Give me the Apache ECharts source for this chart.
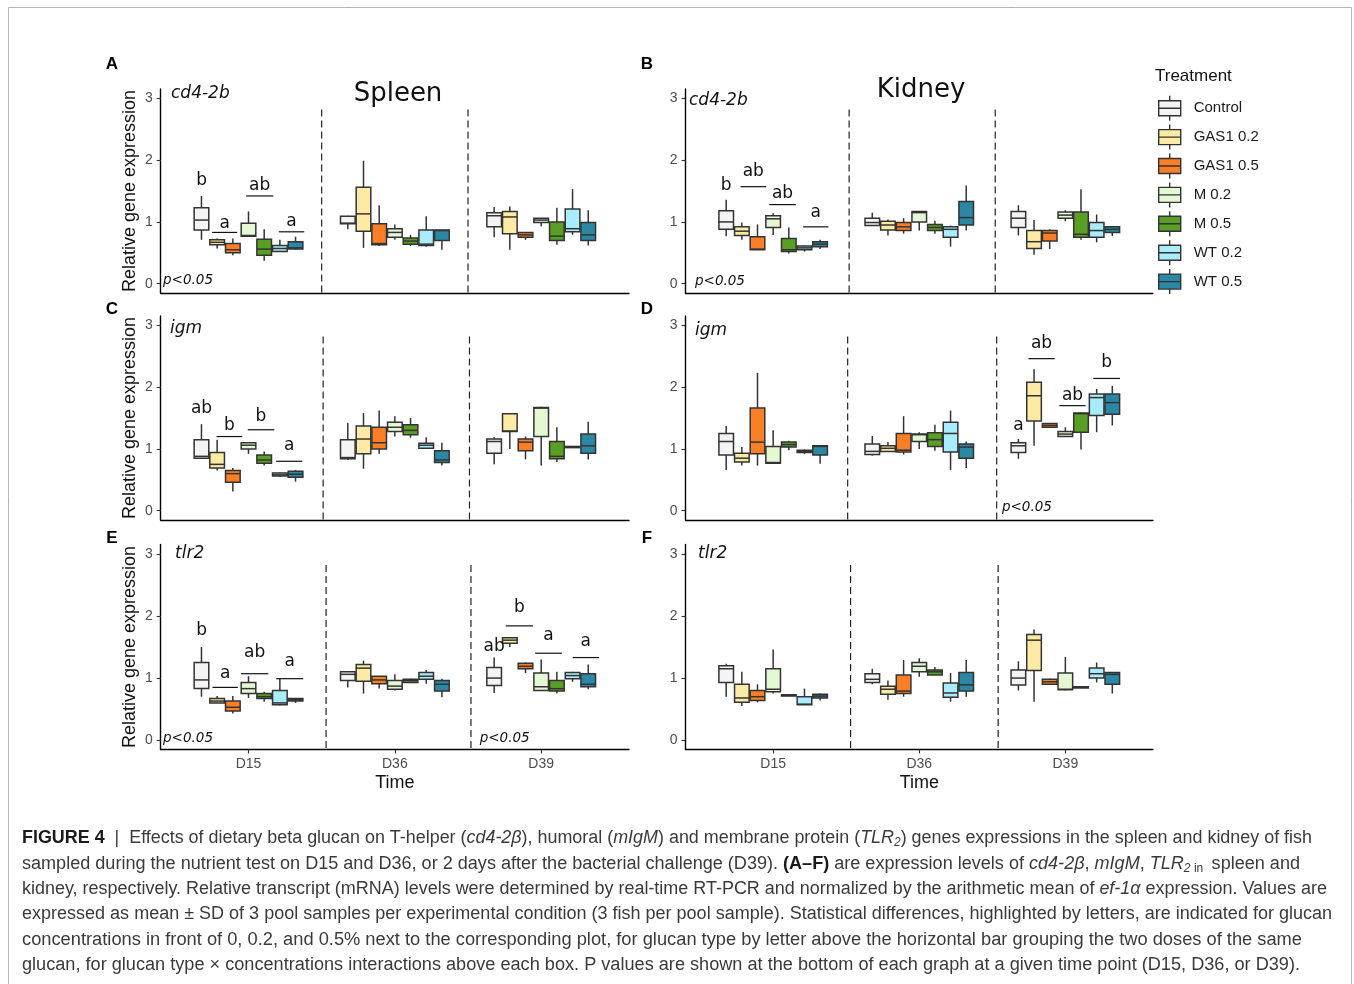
<!DOCTYPE html>
<html><head><meta charset="utf-8">
<script src="https://cdn.jsdelivr.net/npm/echarts@6/dist/echarts.min.js"></script>
<style>html,body{margin:0;padding:0;background:#fff}#c{width:1354px;height:984px}</style>
</head><body><div id="c"></div>
<script>
// ---------------- data ----------------
const treatments = ['Control','GAS1 0.2','GAS1 0.5','M 0.2','M 0.5','WT 0.2','WT 0.5'];
const times = ['D15','D36','D39'];
const yTicks = [0,1,2,3];
const xTicks = [1,2,3];
const fillColors = ['#f4f4f4','#fdeba5','#fb7f27','#e4f8d4','#5a9f25','#a9ecfb','#2a88a4'];

// [min, q1, median, q3, max] per treatment, for D15, D36, D39
const spleenCd4 = [
 [[0.71,0.87,1.03,1.23,1.42],[0.88,0.97,0.98,1.09,1.10],[0.75,0.92,1.10,1.15,1.24]],
 [[0.57,0.63,0.67,0.71,0.73],[0.58,0.85,1.13,1.56,1.99],[0.55,0.81,1.08,1.17,1.25]],
 [[0.46,0.50,0.55,0.65,0.73],[0.61,0.63,0.65,0.97,1.27],[0.71,0.75,0.79,0.83,0.83]],
 [[0.76,0.77,0.78,0.98,1.17],[0.71,0.75,0.83,0.89,0.96],[0.93,0.99,1.03,1.06,1.06]],
 [[0.37,0.46,0.56,0.72,0.88],[0.61,0.64,0.69,0.74,0.79],[0.63,0.70,0.77,1.00,1.23]],
 [[0.52,0.52,0.57,0.62,0.71],[0.60,0.62,0.64,0.87,1.09],[0.79,0.84,0.89,1.21,1.53]],
 [[0.55,0.56,0.58,0.68,0.76],[0.55,0.70,0.86,0.87,0.87],[0.62,0.70,0.79,0.99,1.19]]
];
const kidneyCd4 = [
 [[0.77,0.88,1.00,1.18,1.36],[0.94,0.94,0.99,1.06,1.15],[0.78,0.91,1.06,1.17,1.27]],
 [[0.71,0.78,0.85,0.92,0.99],[0.78,0.87,0.95,1.01,1.04],[0.47,0.57,0.68,0.86,1.03]],
 [[0.55,0.55,0.56,0.76,0.96],[0.81,0.86,0.92,0.99,1.06],[0.56,0.69,0.82,0.86,0.88]],
 [[0.79,0.91,1.05,1.10,1.14],[0.86,1.00,1.15,1.17,1.17],[1.01,1.06,1.11,1.16,1.19]],
 [[0.49,0.52,0.55,0.73,0.91],[0.81,0.86,0.91,0.96,1.02],[0.71,0.75,0.80,1.16,1.53]],
 [[0.52,0.55,0.58,0.61,0.62],[0.60,0.75,0.88,0.92,0.94],[0.67,0.75,0.86,0.99,1.12]],
 [[0.56,0.60,0.64,0.68,0.71],[0.86,0.95,1.07,1.33,1.59],[0.77,0.83,0.88,0.92,0.92]]
];
const spleenIgm = [
 [[0.84,0.85,0.88,1.15,1.40],[0.82,0.84,0.86,1.15,1.42],[0.75,0.93,1.12,1.16,1.19]],
 [[0.65,0.69,0.75,0.94,1.15],[0.68,0.92,1.16,1.37,1.58],[1.00,1.28,1.29,1.57,1.57]],
 [[0.31,0.46,0.60,0.65,0.69],[0.92,1.00,1.10,1.35,1.62],[0.83,0.97,1.11,1.16,1.20]],
 [[0.92,1.00,1.06,1.10,1.11],[1.20,1.28,1.35,1.43,1.53],[0.73,1.20,1.66,1.67,1.68]],
 [[0.73,0.77,0.82,0.90,0.96],[1.18,1.23,1.30,1.39,1.50],[0.79,0.84,0.88,1.12,1.35]],
 [[0.55,0.56,0.58,0.61,0.62],[1.01,1.01,1.06,1.09,1.19],[1.02,1.03,1.03,1.04,1.04]],
 [[0.47,0.54,0.59,0.64,0.66],[0.73,0.78,0.82,0.97,1.10],[0.83,0.93,1.05,1.24,1.44]]
];
const kidneyIgm = [
 [[0.66,0.90,1.12,1.25,1.37],[0.89,0.91,0.96,1.08,1.21],[0.84,0.94,1.05,1.10,1.16]],
 [[0.73,0.79,0.85,0.93,1.03],[0.96,0.96,1.01,1.05,1.11],[1.05,1.45,1.86,2.08,2.29]],
 [[0.73,0.92,1.11,1.66,2.23],[0.91,0.95,0.98,1.25,1.53],[1.34,1.35,1.38,1.41,1.42]],
 [[0.76,0.77,0.78,1.04,1.30],[1.00,1.12,1.23,1.24,1.27],[1.20,1.20,1.24,1.28,1.35]],
 [[0.98,1.03,1.07,1.11,1.13],[0.97,1.04,1.15,1.26,1.39],[0.99,1.27,1.57,1.58,1.59]],
 [[0.92,0.94,0.96,0.98,0.99],[0.66,0.95,1.25,1.43,1.62],[1.27,1.54,1.83,1.89,1.97]],
 [[0.76,0.90,1.04,1.05,1.05],[0.69,0.85,1.03,1.08,1.12],[1.38,1.56,1.75,1.89,2.02]]
];
const spleenTlr2 = [
 [[0.70,0.83,0.97,1.25,1.50],[0.85,0.96,1.06,1.10,1.11],[0.76,0.88,1.00,1.17,1.33]],
 [[0.60,0.60,0.63,0.67,0.71],[0.75,0.95,1.16,1.22,1.28],[1.50,1.56,1.61,1.65,1.66]],
 [[0.43,0.47,0.53,0.63,0.71],[0.83,0.91,0.97,1.03,1.03],[1.08,1.15,1.19,1.24,1.25]],
 [[0.68,0.75,0.83,0.93,1.03],[0.80,0.82,0.87,0.96,1.06],[0.79,0.80,0.86,1.08,1.30]],
 [[0.62,0.67,0.70,0.75,0.78],[0.92,0.93,0.96,0.98,0.99],[0.75,0.79,0.83,0.96,1.10]],
 [[0.56,0.57,0.60,0.80,0.99],[0.91,0.98,1.03,1.09,1.13],[0.94,0.99,1.04,1.09,1.10]],
 [[0.60,0.63,0.65,0.67,0.68],[0.69,0.79,0.90,0.96,0.99],[0.82,0.86,0.90,1.07,1.22]]
];
const kidneyTlr2 = [
 [[0.70,0.93,1.15,1.20,1.23],[0.90,0.93,0.98,1.07,1.15],[0.80,0.89,1.00,1.13,1.27]],
 [[0.55,0.61,0.68,0.90,1.10],[0.65,0.74,0.82,0.87,0.96],[0.62,1.12,1.61,1.70,1.78]],
 [[0.61,0.64,0.70,0.80,0.90],[0.70,0.75,0.79,1.05,1.29],[0.89,0.90,0.94,0.98,0.99]],
 [[0.75,0.78,0.82,1.15,1.46],[1.02,1.10,1.19,1.25,1.32],[0.80,0.81,0.82,1.08,1.34]],
 [[0.72,0.72,0.73,0.73,0.74],[1.05,1.05,1.10,1.13,1.18],[0.84,0.85,0.85,0.86,0.86]],
 [[0.57,0.57,0.58,0.70,0.83],[0.62,0.69,0.76,0.92,1.08],[0.93,1.00,1.07,1.16,1.25]],
 [[0.64,0.68,0.71,0.74,0.75],[0.70,0.79,0.89,1.09,1.29],[0.75,0.90,1.06,1.09,1.09]]
];

// significance letters [x, y, text] and grouping bars [x1, x2, y] (data units)
const spleenCd4Letters = [[0.679,1.67,'b'],[0.837,0.98,'a'],[1.076,1.58,'ab'],[1.294,1.00,'a']];
const spleenCd4Bars = [[0.751,0.923,0.83],[0.984,1.169,1.42],[1.207,1.381,0.84]];
const kidneyCd4Letters = [[0.679,1.58,'b'],[0.864,1.82,'ab'],[1.064,1.46,'ab'],[1.291,1.15,'a']];
const kidneyCd4Bars = [[0.777,0.952,1.57],[0.973,1.155,1.28],[1.205,1.378,0.92]];
const spleenIgmLetters = [[0.679,1.66,'ab'],[0.869,1.38,'b'],[1.085,1.53,'b'],[1.278,1.06,'a']];
const spleenIgmBars = [[0.781,0.957,1.20],[0.995,1.176,1.31],[1.189,1.367,0.80]];
const kidneyIgmLetters = [[2.679,1.37,'a'],[2.837,2.70,'ab'],[3.049,1.87,'ab'],[3.282,2.39,'b']];
const kidneyIgmBars = [[2.747,2.927,2.46],[2.959,3.139,1.70],[3.191,3.374,2.14]];
const spleenTlr2Letters = [[0.679,1.77,'b'],[0.840,1.08,'a'],[1.042,1.41,'ab'],[1.281,1.27,'a'],
                           [2.679,1.50,'ab'],[2.851,2.13,'b'],[3.050,1.69,'a'],[3.305,1.59,'a']];
const spleenTlr2Bars = [[0.754,0.927,0.85],[0.949,1.135,1.07],[1.189,1.374,0.99],
                        [2.758,2.944,1.84],[2.959,3.141,1.40],[3.216,3.395,1.33]];
const kidneyTlr2Letters = [];
const kidneyTlr2Bars = [];
// p-value notes [x(left), y]
const spleenCd4P = [[0.416,0.05]];
const kidneyCd4P = [[0.465,0.03]];
const spleenIgmP = [];
const kidneyIgmP = [[2.566,0.05]];
const spleenTlr2P = [[0.416,0.02],[2.58,0.03]];
const kidneyTlr2P = [];

// ---------------- layout / style ----------------
const OUTLINE = '#333333';
const SLOT = 0.75 / 7;
const BOXW = 0.1;
const DASH_TOP = 2.82;
const Y_MIN = -0.15, Y_MAX = 3.15;
const FONT_SANS = "'Liberation Sans', Arial, sans-serif";
const FONT_DV = "'DejaVu Sans', sans-serif";

const panels = [
  {data: spleenCd4, letters: spleenCd4Letters, bars: spleenCd4Bars, pvals: spleenCd4P, dashes: [1.5, 2.5]},
  {data: kidneyCd4, letters: kidneyCd4Letters, bars: kidneyCd4Bars, pvals: kidneyCd4P, dashes: [1.52, 2.52]},
  {data: spleenIgm, letters: spleenIgmLetters, bars: spleenIgmBars, pvals: spleenIgmP, dashes: [1.51, 2.51]},
  {data: kidneyIgm, letters: kidneyIgmLetters, bars: kidneyIgmBars, pvals: kidneyIgmP, dashes: [1.51, 2.53]},
  {data: spleenTlr2, letters: spleenTlr2Letters, bars: spleenTlr2Bars, pvals: spleenTlr2P, dashes: [1.53, 2.52]},
  {data: kidneyTlr2, letters: kidneyTlr2Letters, bars: kidneyTlr2Bars, pvals: kidneyTlr2P, dashes: [1.53, 2.54]}
];
const colLeft = [160.7, 685.5], colWidth = [468.3, 467.5];
const rowTop = [89, 316, 544.5], rowHeight = [204, 204, 205];

const grids = [], xAxes = [], yAxes = [], series = [];
panels.forEach((p, gi) => {
  const col = gi % 2, row = Math.floor(gi / 2);
  const bottomRow = row === 2;
  grids.push({left: colLeft[col], top: rowTop[row], width: colWidth[col], height: rowHeight[row], outerBoundsMode: 'none', containLabel: false});
  xAxes.push({
    type: 'value', gridIndex: gi, min: 0.4, max: 3.6,
    axisLine: {show: true, onZero: false, lineStyle: {color: '#000', width: 1.4}},
    axisTick: {show: bottomRow, customValues: xTicks, length: 4, lineStyle: {color: '#333', width: 1.1}},
    axisLabel: {show: bottomRow, customValues: xTicks, formatter: v => times[Math.round(v) - 1], color: '#4d4d4d', fontSize: 14, fontFamily: FONT_SANS, margin: 8},
    splitLine: {show: false}
  });
  yAxes.push({
    type: 'value', gridIndex: gi, min: Y_MIN, max: Y_MAX,
    axisLine: {show: true, onZero: false, lineStyle: {color: '#000', width: 1.4}},
    axisTick: {show: true, customValues: yTicks, length: 4, lineStyle: {color: '#333', width: 1.1}},
    axisLabel: {show: true, customValues: yTicks, color: '#4d4d4d', fontSize: 14, fontFamily: FONT_SANS, margin: 8},
    splitLine: {show: false}
  });
  treatments.forEach((name, ti) => {
    series.push({
      type: 'custom', name: name, xAxisIndex: gi, yAxisIndex: gi,
      itemStyle: {color: fillColors[ti], borderColor: OUTLINE, borderWidth: 1.4},
      renderItem: boxRenderer(ti),
      encode: {x: 0, y: [1, 2, 3, 4, 5]},
      data: p.data[ti].map((v, t) => [t].concat(v))
    });
  });
  series.push({
    type: 'custom', xAxisIndex: gi, yAxisIndex: gi, silent: true, z: 5,
    renderItem: annotRenderer(p), data: [[1, 1]]
  });
});

function boxRenderer(ti) {
  return function (params, api) {
    const xc = api.value(0) + 1 + (ti - 3) * SLOT;
    const lo = api.coord([xc, api.value(1)]);
    const q1 = api.coord([xc, api.value(2)]);
    const md = api.coord([xc, api.value(3)]);
    const q3 = api.coord([xc, api.value(4)]);
    const hi = api.coord([xc, api.value(5)]);
    const w = api.size([BOXW, 0])[0];
    const x0 = lo[0] - w / 2;
    const ls = {stroke: OUTLINE, lineWidth: 1.5};
    return {type: 'group', children: [
      {type: 'line', shape: {x1: lo[0], y1: hi[1], x2: lo[0], y2: q3[1]}, style: ls},
      {type: 'line', shape: {x1: lo[0], y1: q1[1], x2: lo[0], y2: lo[1]}, style: ls},
      {type: 'rect', shape: {x: x0, y: q3[1], width: w, height: Math.max(q1[1] - q3[1], 1.2)},
       style: {fill: fillColors[ti], stroke: OUTLINE, lineWidth: 1.5}},
      {type: 'line', shape: {x1: x0, y1: md[1], x2: x0 + w, y2: md[1]}, style: ls}
    ]};
  };
}

function annotRenderer(p) {
  return function (params, api) {
    const ch = [];
    p.dashes.forEach(x => {
      const a = api.coord([x, DASH_TOP]), b = api.coord([x, Y_MIN]);
      ch.push({type: 'line', shape: {x1: a[0], y1: a[1], x2: b[0], y2: b[1]},
               style: {stroke: '#222', lineWidth: 1.2, lineDash: [7, 4]}});
    });
    p.bars.forEach(b => {
      const a = api.coord([b[0], b[2]]), c = api.coord([b[1], b[2]]);
      ch.push({type: 'line', shape: {x1: a[0], y1: a[1], x2: c[0], y2: c[1]},
               style: {stroke: '#111', lineWidth: 1.2}});
    });
    p.letters.forEach(l => {
      const a = api.coord([l[0], l[1]]);
      ch.push({type: 'text', x: a[0], y: a[1],
               style: {text: l[2], fill: '#111', fontSize: 17, fontFamily: FONT_DV, align: 'center', verticalAlign: 'middle'}});
    });
    p.pvals.forEach(v => {
      const a = api.coord([v[0], v[1]]);
      ch.push({type: 'text', x: a[0], y: a[1],
               style: {text: 'p<0.05', fill: '#111', fontSize: 13.5, fontStyle: 'italic', fontFamily: FONT_DV, align: 'left', verticalAlign: 'middle'}});
    });
    return {type: 'group', children: ch};
  };
}

// ---------------- static text ----------------
const graphics = [];
graphics.push({type: 'rect', shape: {x: 8.5, y: 7.5, width: 1343, height: 1000}, style: {fill: 'none', stroke: '#b5b5b5', lineWidth: 1}, z: 0});
function txt(x, y, text, o) {
  graphics.push(Object.assign({type: 'text', x: x, y: y, z: 10,
    style: Object.assign({text: text, fill: '#111', fontSize: 16, fontFamily: FONT_SANS, align: 'left', verticalAlign: 'middle'}, o || {})}));
}
const letterPos = [['A',112,64],['B',647,64],['C',112,309],['D',647,309],['E',112,538],['F',647,538]];
letterPos.forEach(l => txt(l[1], l[2], l[0], {fontSize: 17, fontWeight: 'bold', align: 'center', fill: '#000'}));
const geneLabels = [['cd4-2b',171,94],['cd4-2b',689,101],['igm',170,329],['igm',695,331],['tlr2',175,554],['tlr2',698,554]];
geneLabels.forEach(g => txt(g[1], g[2], g[0], {fontSize: 17, fontStyle: 'italic', fontFamily: FONT_DV}));
txt(398, 94, 'Spleen', {fontSize: 26, fontFamily: FONT_DV, align: 'center'});
txt(921, 90, 'Kidney', {fontSize: 26, fontFamily: FONT_DV, align: 'center'});
[191, 418, 647].forEach(cy => {
  graphics.push({type: 'text', x: 130, y: cy, rotation: Math.PI / 2, z: 10,
    style: {text: 'Relative gene expression', fill: '#111', fontSize: 18, fontFamily: FONT_SANS, align: 'center', verticalAlign: 'middle'}});
});
txt(394.8, 783, 'Time', {fontSize: 18, align: 'center'});
txt(919.3, 783, 'Time', {fontSize: 18, align: 'center'});
txt(1155, 76, 'Treatment', {fontSize: 17});

// caption
const CAP_FONT = "'Liberation Sans Narrow', 'Liberation Sans', Arial, sans-serif";
const CAP_SIZE = 18, CAP_SUB = 12;
const captionLines = [
  [['FIGURE 4','b'],['  |  Effects of dietary beta glucan on T-helper (',''],['cd4-2β','i'],['), humoral (',''],['mIgM','i'],[') and membrane protein (',''],['TLR','i'],['2','is'],[') genes expressions in the spleen and kidney of fish','']],
  [['sampled during the nutrient test on D15 and D36, or 2 days after the bacterial challenge (D39). ',''],['(A–F)','b'],[' are expression levels of ',''],['cd4-2β','i'],[', ',''],['mIgM','i'],[', ',''],['TLR','i'],['2','is'],[' in ','s'],[' spleen and','']],
  [['kidney, respectively. Relative transcript (mRNA) levels were determined by real-time RT-PCR and normalized by the arithmetic mean of ',''],['ef-1α','i'],[' expression. Values are','']],
  [['expressed as mean ± SD of 3 pool samples per experimental condition (3 fish per pool sample). Statistical differences, highlighted by letters, are indicated for glucan','']],
  [['concentrations in front of 0, 0.2, and 0.5% next to the corresponding plot, for glucan type by letter above the horizontal bar grouping the two doses of the same','']],
  [['glucan, for glucan type × concentrations interactions above each box. P values are shown at the bottom of each graph at a given time point (D15, D36, or D39).','']]
];
const capY = [838, 864, 889, 914, 940, 965];
const capRight = [1312, 1300, 1327, 1332, 1302, 1300];
const mctx = document.createElement('canvas').getContext('2d');
captionLines.forEach((line, li) => {
  let off = 0;
  const children = [];
  line.forEach(seg => {
    const st = seg[1];
    const size = st.indexOf('s') >= 0 ? CAP_SUB : CAP_SIZE;
    const italic = st.indexOf('i') >= 0, bold = st.indexOf('b') >= 0;
    mctx.font = (italic ? 'italic ' : '') + (bold ? 'bold ' : '') + size + 'px ' + CAP_FONT;
    const w = mctx.measureText(seg[0]).width;
    children.push({type: 'text', x: off, y: st.indexOf('s') >= 0 ? 5 : 0,
      style: {text: seg[0], fill: bold ? '#1a1a1a' : '#3a3a3a', fontSize: size, fontFamily: CAP_FONT,
              fontStyle: italic ? 'italic' : 'normal', fontWeight: bold ? 'bold' : 'normal', verticalAlign: 'middle', align: 'left'}});
    off += w;
  });
  graphics.push({type: 'group', x: 22, y: capY[li], scaleX: (capRight[li] - 22) / off, z: 10, children: children});
});

const BOX_ICON = 'path://M0,5L22,5L22,20L0,20Z M0,12.5L22,12.5 M11,0L11,5 M11,20L11,25';

const chart = echarts.init(document.getElementById('c'), null, {renderer: 'canvas'});
chart.setOption({
  animation: false,
  backgroundColor: '#fff',
  grid: grids, xAxis: xAxes, yAxis: yAxes, series: series,
  legend: {
    data: treatments, orient: 'vertical', left: 1158, top: 95, padding: 0,
    itemWidth: 22, itemHeight: 25, itemGap: 2.5, icon: BOX_ICON, selectedMode: false,
    itemStyle: {borderColor: OUTLINE, borderWidth: 1.4},
    textStyle: {fontSize: 15, color: '#1a1a1a', fontFamily: FONT_SANS, padding: [0, 0, 0, 8]}
  },
  graphic: graphics
});
</script>
</body></html>
